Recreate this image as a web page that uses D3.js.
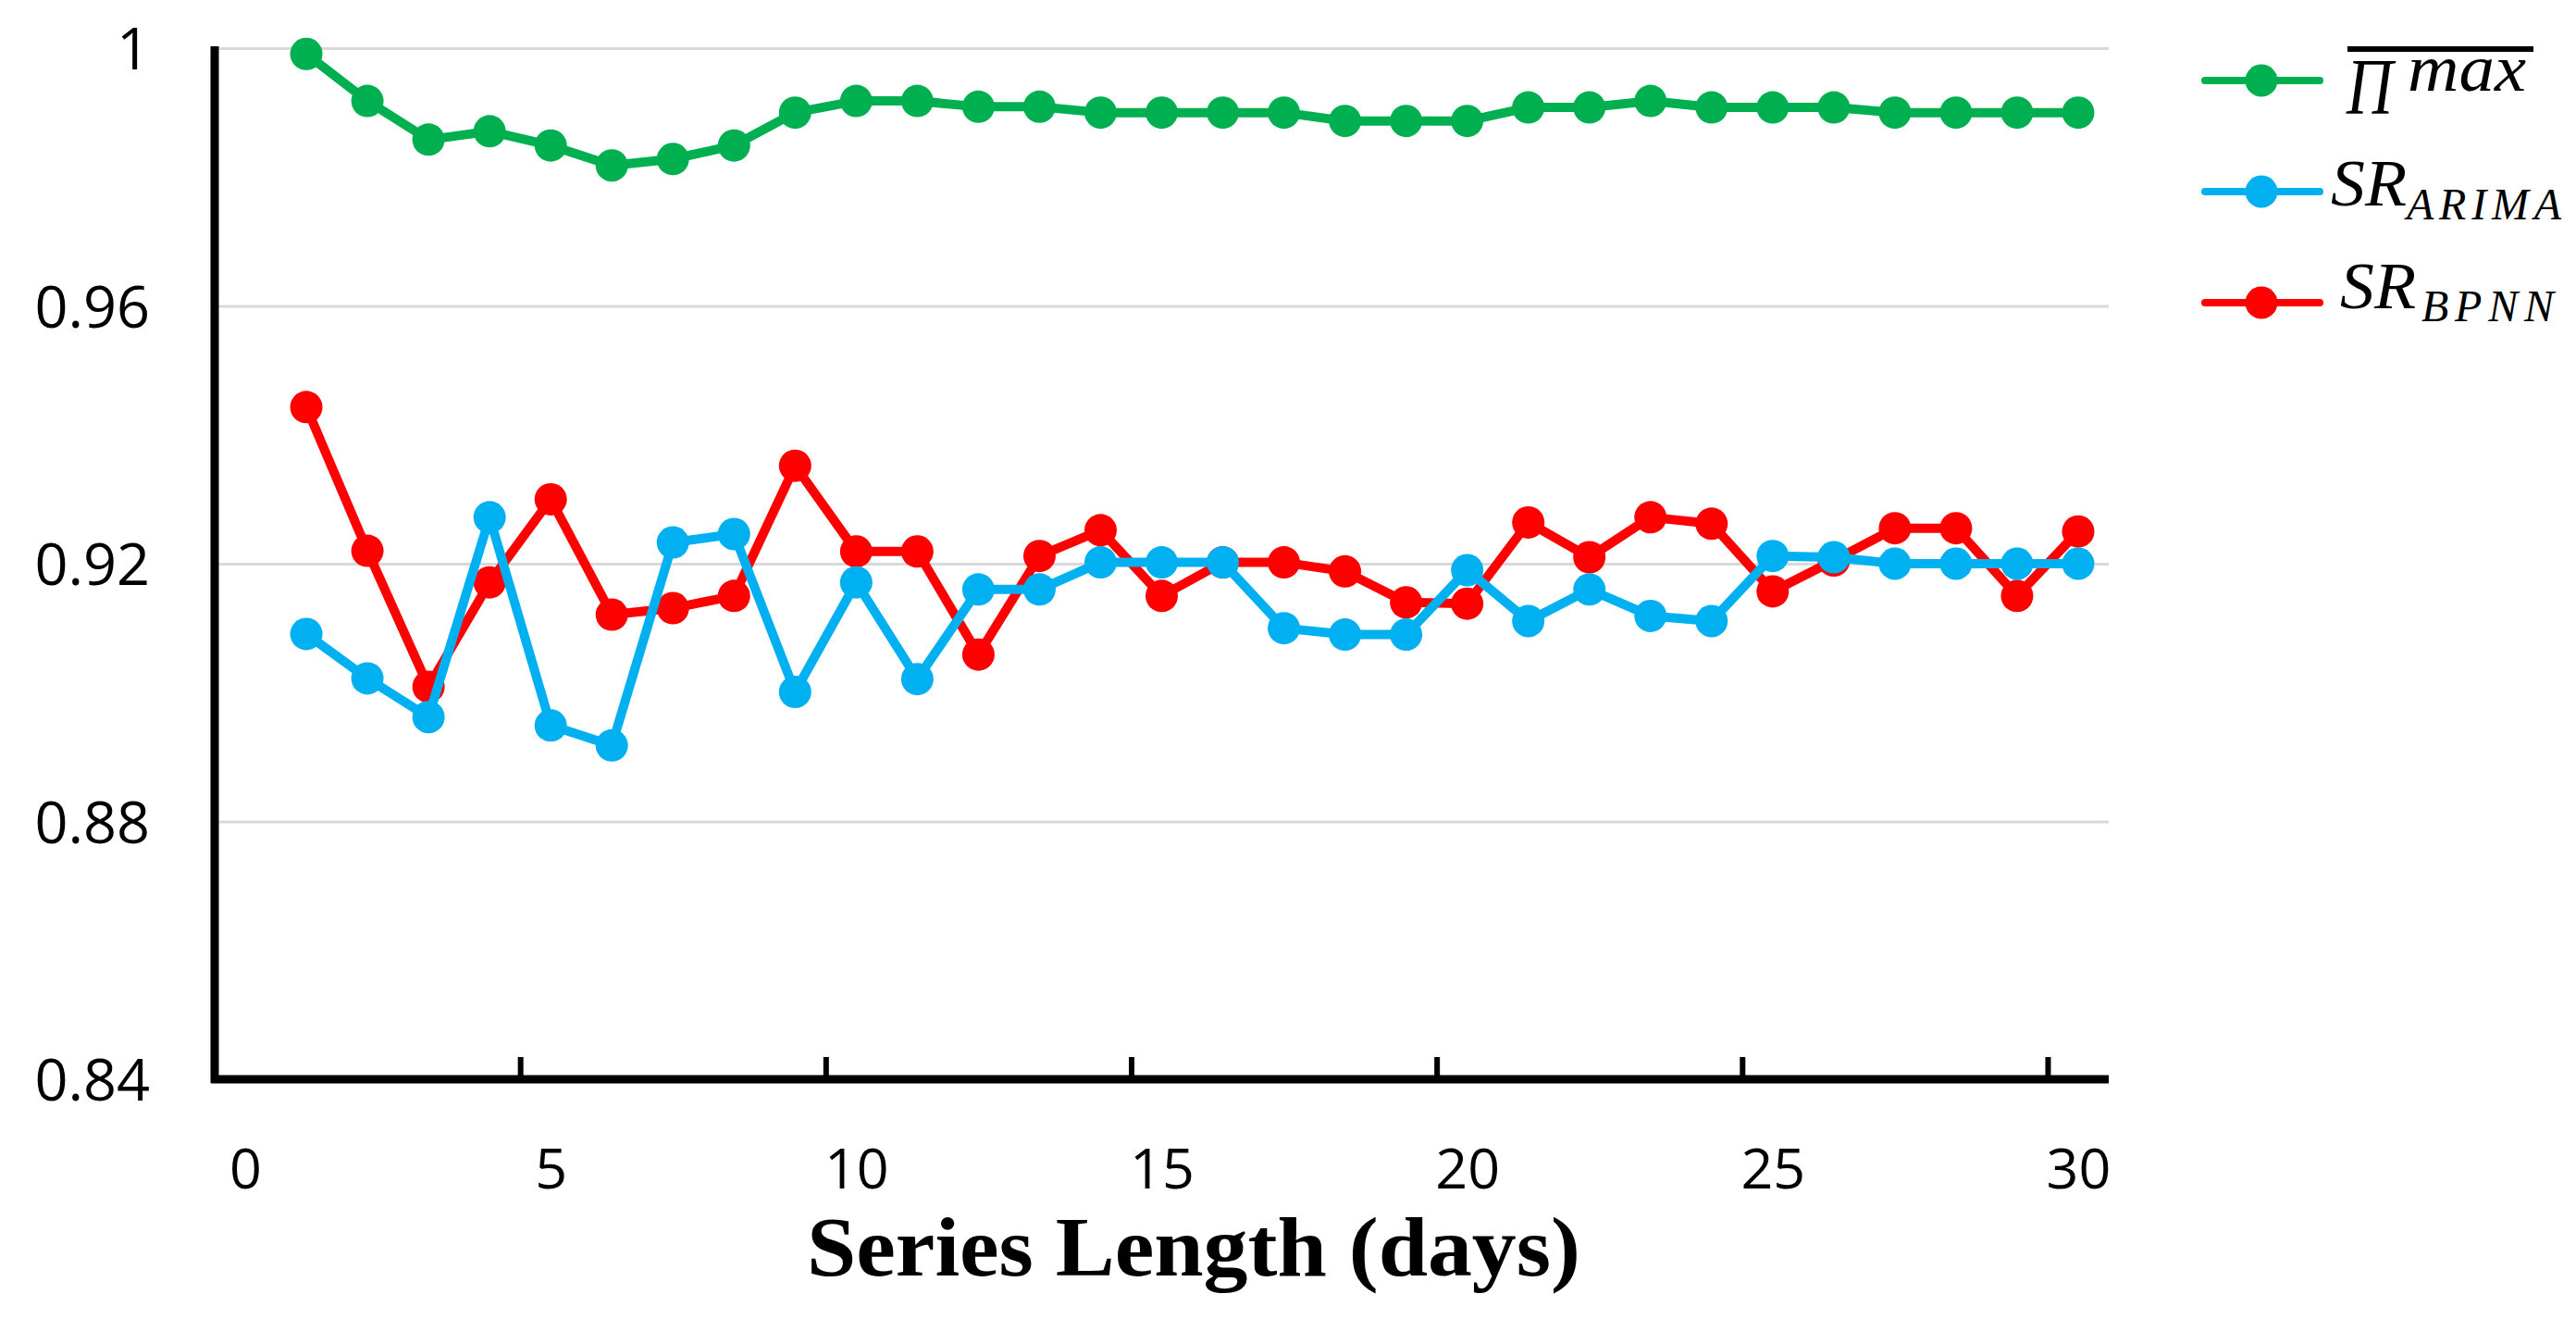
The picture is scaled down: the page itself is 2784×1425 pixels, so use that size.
<!DOCTYPE html>
<html>
<head>
<meta charset="utf-8">
<script src="https://cdn.jsdelivr.net/npm/d3@7/dist/d3.min.js"></script>
<style>
  html, body { margin: 0; padding: 0; background: #ffffff; }
  svg { display: block; }
</style>
</head>
<body>
<svg id="chart" width="2784" height="1425"></svg>
<script>
// ---------- data ----------
const days = [1,2,3,4,5,6,7,8,9,10,11,12,13,14,15,16,17,18,19,20,21,22,23,24,25,26,27,28,29,30];
const piMax = [0.9991,0.9918,0.9858,0.9871,0.9849,0.9818,0.9828,0.9849,0.9900,0.9918,
               0.9918,0.9909,0.9909,0.9900,0.9900,0.9900,0.9900,0.9887,0.9887,0.9887,
               0.9908,0.9908,0.9918,0.9908,0.9908,0.9908,0.9900,0.9900,0.9900,0.9900];
const srArima = [0.9091,0.9022,0.8962,0.9272,0.8949,0.8918,0.9233,0.9246,0.9001,0.9171,
                 0.9021,0.9160,0.9160,0.9202,0.9202,0.9202,0.9100,0.9090,0.9090,0.9190,
                 0.9111,0.9160,0.9119,0.9111,0.9212,0.9210,0.9200,0.9200,0.9200,0.9200];
const srBpnn = [0.9443,0.9220,0.9009,0.9171,0.9300,0.9121,0.9131,0.9150,0.9352,0.9219,
                0.9219,0.9059,0.9212,0.9252,0.9150,0.9202,0.9202,0.9188,0.9140,0.9138,
                0.9264,0.9210,0.9272,0.9262,0.9157,0.9205,0.9255,0.9255,0.9150,0.9250];
const xTicks = [0,5,10,15,20,25,30];
const yTicks = [0.84,0.88,0.92,0.96,1];
const xTitle = "Series Length (days)";

const seriesList = [
  {key: "pi", values: piMax, color: "#00B050"},
  {key: "bpnn", values: srBpnn, color: "#FF0000"},
  {key: "arima", values: srArima, color: "#00B0F0"}
];

// ---------- layout ----------
const svg = d3.select("#chart");
const plotL = 232, plotR = 2279, plotT = 52, plotB = 1166;

// point scale: day d sits at the centre of its unit cell
const x = d3.scaleLinear().domain([-0.5, 30.5]).range([plotL, plotR]);
// tick scale for the axis marks
const xTickScale = d3.scaleLinear().domain([0, 31]).range([plotL, plotR]);
const y = d3.scaleLinear().domain([0.84, 1]).range([plotB, plotT]);
const halfUnit = x(1) - x(0.5);

svg.append("rect").attr("width", 2784).attr("height", 1425).attr("fill", "#ffffff");

// gridlines
const grid = svg.append("g")
  .attr("transform", `translate(${plotL},0)`)
  .call(d3.axisLeft(y).tickValues(yTicks.filter(v => v > 0.84)).tickSize(-(plotR - plotL)).tickFormat(""));
grid.select(".domain").remove();
grid.selectAll("line").attr("stroke", "#D9D9D9").attr("stroke-width", 3);

// y tick labels
const yAxis = svg.append("g")
  .attr("transform", `translate(${plotL - 70},0)`)
  .call(d3.axisLeft(y).tickValues(yTicks).tickSize(0).tickPadding(0)
        .tickFormat(d => d === 1 ? "1" : d3.format(".2f")(d)));
yAxis.select(".domain").remove();
yAxis.selectAll("text")
  .attr("font-family", "'Open Sans', 'Noto Sans', sans-serif")
  .attr("font-size", 63).attr("fill", "#000").attr("dy", "0.36em");

// x axis ticks (inward) and labels
const xAxis = svg.append("g")
  .attr("transform", `translate(0,${plotB})`)
  .call(d3.axisBottom(xTickScale).tickValues(xTicks).tickSize(-24).tickPadding(0)
        .tickFormat(d3.format("d")));
xAxis.select(".domain").remove();
xAxis.selectAll("line").attr("stroke", "#000").attr("stroke-width", 6);
xAxis.selectAll("text")
  .attr("font-family", "'Open Sans', 'Noto Sans', sans-serif")
  .attr("font-size", 61).attr("fill", "#000")
  .attr("x", halfUnit).attr("y", 118).attr("dy", 0);

// axis lines
svg.append("line").attr("x1", plotL).attr("x2", plotL).attr("y1", plotT - 2).attr("y2", plotB + 4)
  .attr("stroke", "#000").attr("stroke-width", 9);
svg.append("line").attr("x1", plotL - 4).attr("x2", plotR).attr("y1", plotB).attr("y2", plotB)
  .attr("stroke", "#000").attr("stroke-width", 9);

// x title
svg.append("text")
  .attr("x", 1290).attr("y", 1378)
  .attr("text-anchor", "middle")
  .attr("font-family", "'Liberation Serif', 'Times New Roman', serif")
  .attr("font-weight", "bold").attr("font-size", 91).attr("fill", "#000")
  .attr("textLength", 836).attr("lengthAdjust", "spacingAndGlyphs")
  .text(xTitle);

// series
const line = d3.line().x((d, i) => x(days[i])).y(d => y(d));
seriesList.forEach(s => {
  const g = svg.append("g").attr("class", "series-" + s.key);
  g.append("path").datum(s.values)
    .attr("d", line).attr("fill", "none")
    .attr("stroke", s.color).attr("stroke-width", 10)
    .attr("stroke-linejoin", "round").attr("stroke-linecap", "round");
  g.selectAll("circle").data(s.values).enter().append("circle")
    .attr("cx", (d, i) => x(days[i])).attr("cy", d => y(d))
    .attr("r", 17.5).attr("fill", s.color);
});

// legend
const legendRows = [
  {color: "#00B050", y: 87},
  {color: "#00B0F0", y: 207},
  {color: "#FF0000", y: 327}
];
const lg = svg.append("g");
legendRows.forEach(r => {
  lg.append("line").attr("x1", 2383).attr("x2", 2507).attr("y1", r.y).attr("y2", r.y)
    .attr("stroke", r.color).attr("stroke-width", 8).attr("stroke-linecap", "round");
  lg.append("circle").attr("cx", 2444).attr("cy", r.y).attr("r", 17.5).attr("fill", r.color);
});
const serif = "'Liberation Serif', 'Times New Roman', serif";
// Pi max with overline
lg.append("text").attr("x", 2536).attr("y", 123)
  .attr("font-family", serif).attr("font-style", "italic").attr("font-size", 86)
  .attr("textLength", 50).attr("lengthAdjust", "spacingAndGlyphs").text("Π");
lg.append("text").attr("x", 2602).attr("y", 98)
  .attr("font-family", serif).attr("font-style", "italic").attr("font-size", 72)
  .attr("textLength", 128).attr("lengthAdjust", "spacingAndGlyphs").text("max");
lg.append("line").attr("x1", 2537).attr("x2", 2738).attr("y1", 53).attr("y2", 53)
  .attr("stroke", "#000").attr("stroke-width", 6);
// SR_ARIMA
lg.append("text").attr("x", 2519).attr("y", 222)
  .attr("font-family", serif).attr("font-style", "italic").attr("font-size", 71)
  .attr("textLength", 82).attr("lengthAdjust", "spacingAndGlyphs").text("SR");
lg.append("text").attr("x", 2601).attr("y", 237)
  .attr("font-family", serif).attr("font-style", "italic").attr("font-size", 48)
  .attr("textLength", 167).attr("lengthAdjust", "spacing").text("ARIMA");
// SR_BPNN
lg.append("text").attr("x", 2529).attr("y", 333)
  .attr("font-family", serif).attr("font-style", "italic").attr("font-size", 71)
  .attr("textLength", 82).attr("lengthAdjust", "spacingAndGlyphs").text("SR");
lg.append("text").attr("x", 2617).attr("y", 347)
  .attr("font-family", serif).attr("font-style", "italic").attr("font-size", 48)
  .attr("textLength", 143).attr("lengthAdjust", "spacing").text("BPNN");
</script>
</body>
</html>
